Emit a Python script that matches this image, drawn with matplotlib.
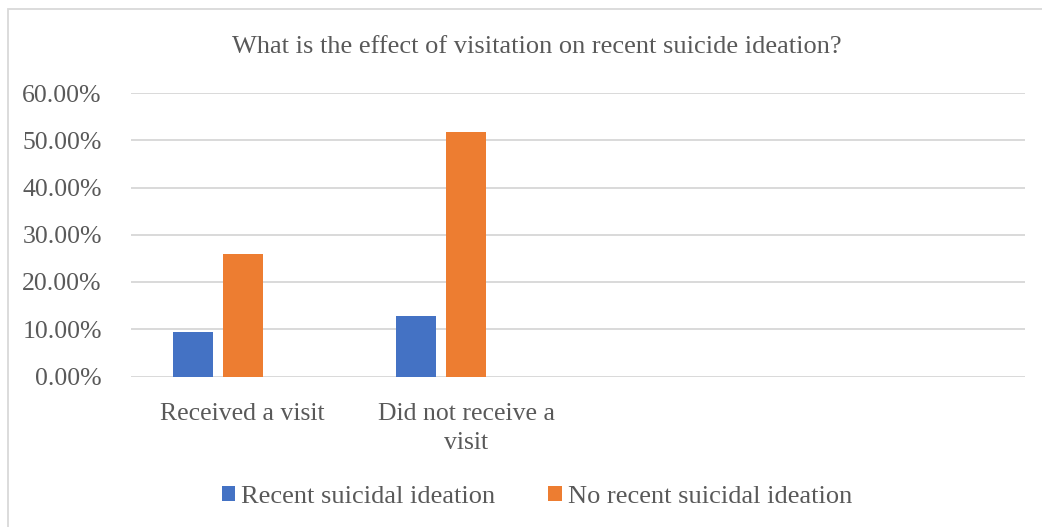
import matplotlib
matplotlib.use("Agg")
import matplotlib.pyplot as plt
from matplotlib.patches import Rectangle
from matplotlib.ticker import FuncFormatter
import numpy as np

plt.rcParams['font.family'] = ['Liberation Serif', 'DejaVu Serif']

title = "What is the effect of visitation on recent suicide ideation?"
categories = ["Received a visit", "Did not receive a\nvisit", "", ""]
series_names = ["Recent suicidal ideation", "No recent suicidal ideation", ""]
recent_ideation = [0.094, 0.128, np.nan, np.nan]
no_recent_ideation = [0.259, 0.518, np.nan, np.nan]
empty_series = [np.nan, np.nan, np.nan, np.nan]
colors = ["#4472C4", "#ED7D31", "#A5A5A5"]
yticks = [0.0, 0.1, 0.2, 0.3, 0.4, 0.5, 0.6]

W, H = 1042, 527
fig = plt.figure(figsize=(W / 100, H / 100), dpi=100)

# chart-area border
fig.patches.append(Rectangle((8 / W, -0.1), 1.2, 1 - 9 / H + 0.1,
                             transform=fig.transFigure, fill=False,
                             edgecolor="#D9D9D9", linewidth=1.3))

ax = fig.add_axes([131 / W, 1 - 376.5 / H, (1025 - 131) / W, (376.5 - 93) / H])

x = np.arange(len(categories))
bar_w = 0.1786
step = 0.2232
all_series = [recent_ideation, no_recent_ideation, empty_series]
offsets = (np.arange(len(all_series)) - (len(all_series) - 1) / 2) * step
handles = []
for vals, off, col, name in zip(all_series, offsets, colors, series_names):
    b = ax.bar(x + off, vals, width=bar_w, color=col, zorder=3)
    if name:
        handles.append((b, name))

ax.set_xlim(-0.5, len(categories) - 0.5)
ax.set_ylim(0, 0.6)
ax.set_yticks(yticks)
ax.yaxis.set_major_formatter(FuncFormatter(lambda v, p: f"{v * 100:.2f}%"))
ax.set_xticks(x)
ax.set_xticklabels(categories, linespacing=1.4)
ax.grid(axis="y", color="#D9D9D9", linewidth=1.4, zorder=0)
for s in ax.spines.values():
    s.set_visible(False)
ax.tick_params(axis="both", length=0, labelsize=18.5, labelcolor="#595959")
ax.tick_params(axis="x", pad=19)
ax.tick_params(axis="y", pad=21)

fig.text(537 / W, 1 - 47 / H, title, ha="center", va="center",
         fontsize=19, color="#595959")

leg = fig.legend([h for h, _ in handles], [n for _, n in handles],
                 loc="center", bbox_to_anchor=(537 / W, 1 - 497 / H),
                 ncol=2, frameon=False, fontsize=19,
                 handlelength=0.5, handleheight=0.5, handletextpad=0.25,
                 columnspacing=2.0, labelcolor="#595959")

fig.savefig("out.png", dpi=100, facecolor="white")
